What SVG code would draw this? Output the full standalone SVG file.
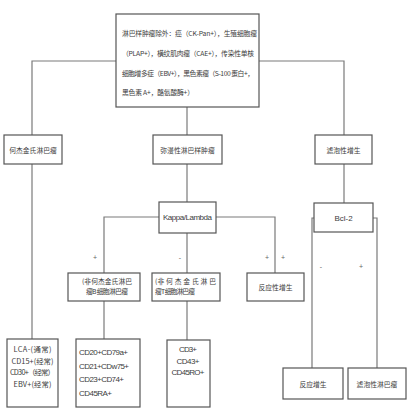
<svg xmlns="http://www.w3.org/2000/svg" width="420" height="420" viewBox="0 0 420 420">
<style>
.box{fill:#fff;stroke:#555;stroke-width:1.2}
.ln{fill:none;stroke:#7a7a7a;stroke-width:1.2}
text{font-family:"Noto Sans CJK SC","Liberation Sans",sans-serif;fill:#3c3c3c;font-size:6.8px}
.c{text-anchor:middle}
.lat{font-family:"Liberation Sans","Noto Sans CJK SC",sans-serif;font-size:8px}
.sg{font-family:"Liberation Sans",sans-serif;font-size:7px;text-anchor:middle;fill:#666}
.b{font-size:7.4px}
</style>
<rect width="420" height="420" fill="#fff"/>
<g id="connectors">
<path class="ln" d="M116 61H32V135"/>
<path class="ln" d="M259 61H344V135"/>
<path class="ln" d="M187 107V135"/>
<path class="ln" d="M32 164V339"/>
<path class="ln" d="M187 164V202"/>
<path class="ln" d="M344 164V203"/>
<path class="ln" d="M159 217H104V273"/>
<path class="ln" d="M187 233V273"/>
<path class="ln" d="M216 217H275V273"/>
<path class="ln" d="M314 218H312V368"/>
<path class="ln" d="M373 218H377V368"/>
<path class="ln" d="M104 301V339"/>
<path class="ln" d="M187 301V340"/>
<text class="sg" x="95" y="260">+</text>
<text class="sg" x="180" y="260">-</text>
<text class="sg" x="267" y="260">+</text>
<text class="sg" x="283" y="260">+</text>
<text class="sg" x="321" y="269">-</text>
<text class="sg" x="361" y="269">+</text>
</g>
<g id="n-top">
<rect class="box" x="116" y="14" width="143" height="93"/>
<text x="122" y="35.5" textLength="135">淋巴样肿瘤除外：癌（CK-Pan+），生殖细胞瘤</text>
<text x="122" y="55.5" textLength="132">（PLAP+），横纹肌肉瘤（CAE+），传染性单核</text>
<text x="122" y="75.5" textLength="132">细胞增多症（EBV+），黑色素瘤（S-100 蛋白+，</text>
<text x="122" y="94.5" textLength="72">黑色素 A+，酪氨酸酶+）</text>
</g>
<g id="n-hodgkin">
<rect class="box" x="4" y="135" width="58" height="29"/>
<text class="c" x="33" y="152.5">何杰金氏淋巴瘤</text>
</g>
<g id="n-diffuse">
<rect class="box" x="153" y="135" width="69" height="29"/>
<text class="c" x="187.5" y="152.5">弥漫性淋巴样肿瘤</text>
</g>
<g id="n-follicular">
<rect class="box" x="315" y="135" width="57" height="29"/>
<text class="c" x="343.5" y="152.5">滤泡性增生</text>
</g>
<g id="n-kappa">
<rect class="box" x="159" y="202" width="57" height="31"/>
<text class="lat c" x="187.5" y="220" textLength="49">Kappa/Lambda</text>
</g>
<g id="n-bcl2">
<rect class="box" x="314" y="203" width="59" height="29"/>
<text class="lat c" x="343.5" y="220.5">Bcl-2</text>
</g>
<g id="n-bcell">
<rect class="box" x="68" y="273" width="72" height="28"/>
<text x="82" y="284" textLength="50">(非何杰金氏淋巴</text>
<text x="86" y="294" textLength="42">瘤B 细胞淋巴瘤</text>
</g>
<g id="n-tcell">
<rect class="box" x="152" y="273" width="68" height="28"/>
<text x="155" y="284" textLength="61">(非 何 杰 金 氏 淋 巴</text>
<text x="155" y="294" textLength="40">瘤T 细胞淋巴瘤</text>
</g>
<g id="n-reactive1">
<rect class="box" x="247" y="273" width="57" height="28"/>
<text class="c" x="275.5" y="289.5">反应性增生</text>
</g>
<g id="n-lca">
<rect class="box" x="7" y="339" width="51" height="68"/>
<text class="c b" x="32.5" y="352" textLength="38">LCA-(通常)</text>
<text class="c b" x="32.5" y="363.5" textLength="42">CD15+(经常)</text>
<text class="c b" x="32.5" y="375" textLength="45">CD30+（经常）</text>
<text class="c b" x="32.5" y="386.5" textLength="38">EBV+(经常)</text>
</g>
<g id="n-bmarkers">
<rect class="box" x="76" y="339" width="64" height="68"/>
<text class="lat" x="79" y="355" textLength="49">CD20+CD79a+</text>
<text class="lat" x="79" y="368.5" textLength="50">CD21+CDw75+</text>
<text class="lat" x="79" y="382" textLength="45">CD23+CD74+</text>
<text class="lat" x="79" y="395.5" textLength="33">CD45RA+</text>
</g>
<g id="n-tmarkers">
<rect class="box" x="167" y="340" width="43" height="67"/>
<text class="lat c" x="188" y="352" textLength="18">CD3+</text>
<text class="lat c" x="188" y="363.5" textLength="23">CD43+</text>
<text class="lat c" x="188" y="375" textLength="33">CD45RO+</text>
</g>
<g id="n-reactive2">
<rect class="box" x="283" y="368" width="60" height="31"/>
<text class="c" x="313" y="387">反应增生</text>
</g>
<g id="n-fl">
<rect class="box" x="348" y="368" width="58" height="31"/>
<text class="c" x="377" y="387">滤泡性淋巴瘤</text>
</g>
</svg>
